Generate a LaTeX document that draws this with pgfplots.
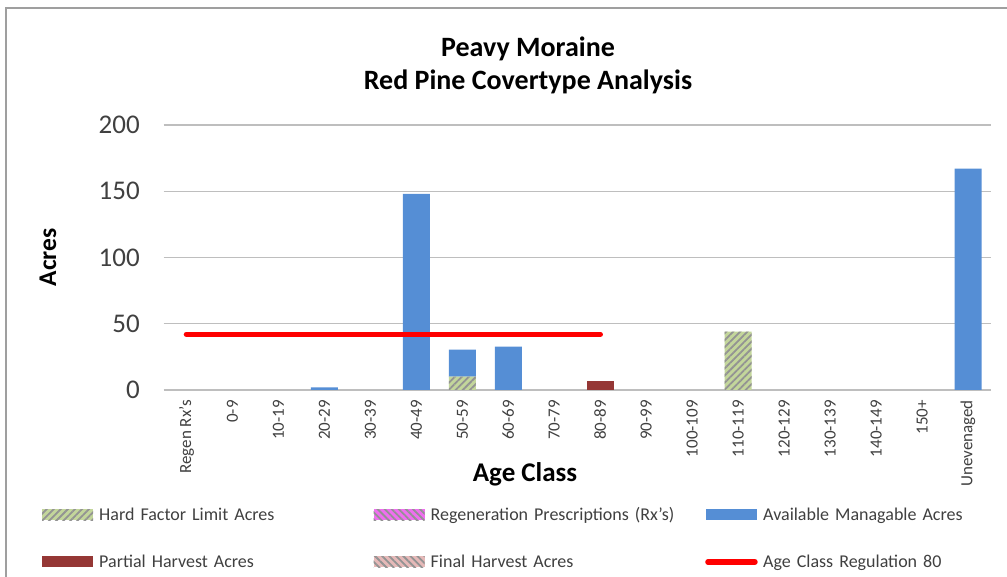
\documentclass[border=0pt]{standalone}
\usepackage{fontspec}
\setmainfont{Carlito}
\usepackage{pgfplots}
\pgfplotsset{compat=1.18}
\usetikzlibrary{patterns.meta}
\definecolor{barblue}{RGB}{85,142,213}
\definecolor{hardgreen}{RGB}{195,214,155}
\definecolor{partred}{RGB}{149,55,53}
\definecolor{finalpink}{RGB}{230,185,184}
\definecolor{regenmag}{RGB}{240,110,240}
\definecolor{gridgray}{RGB}{190,190,190}
\definecolor{txtgray}{RGB}{64,64,64}
\begin{document}
\begin{tikzpicture}[x=1pt,y=1pt]
\useasboundingbox (0,0) rectangle (1007,577);
\draw[color=gray!75, line width=2pt] (6,-20) -- (6,569) -- (1030,569);
\node[font=\fontsize{28}{33}\selectfont\bfseries, align=center, text=black] at (528,512) {Peavy Moraine\\Red Pine Covertype Analysis};
\begin{axis}[
  at={(163.5pt,187pt)}, anchor=south west,
  scale only axis, width=827.5pt, height=265pt,
  ybar stacked, bar width=27pt,
  xmin=-0.5, xmax=17.5, ymin=0, ymax=200,
  xtick=data,
  xticklabels={Regen Rx's,0-9,10-19,20-29,30-39,40-49,50-59,60-69,70-79,80-89,90-99,100-109,110-119,120-129,130-139,140-149,150+,Unevenaged},
  ytick={0,50,100,150,200},
  ymajorgrids, grid style={gridgray, line width=1.3pt},
  axis line style={draw=none},
  major tick length=0pt,
  /pgf/number format/assume math mode=true,
  xticklabel style={rotate=90, anchor=east, inner sep=0pt, font=\fontsize{17}{20}\selectfont, text=txtgray},
  xticklabel shift=10pt,
  yticklabel style={inner sep=0pt, font=\fontsize{27}{30}\selectfont, text=txtgray},
  yticklabel shift=23.5pt,
  xlabel={Age Class}, ylabel={Acres},
  xlabel style={at={(axis description cs:0.4369,-0.32)}, anchor=center, font=\fontsize{27}{30}\selectfont\bfseries},
  ylabel style={at={(axis description cs:-0.1396,0.5)}, anchor=center, rotate=0, font=\fontsize{25.5}{30}\selectfont\bfseries},
  legend columns=3,
  legend style={at={(axis description cs:-0.1468,-0.442)}, anchor=north west, draw=none, inner sep=0pt,
    font=\fontsize{18}{21}\selectfont, text=txtgray, row sep=33pt,
    nodes={text width=274.5pt, inner sep=0pt, align=left}},
  legend cell align=left,
  legend image code/.code={\fill[#1] (0pt,-5.5pt) rectangle (51pt,5.5pt); \path (57pt,0pt);},
]
\addplot[draw=none, fill=hardgreen, postaction={pattern={Lines[angle=45,distance=5pt,line width=1.8pt]}, pattern color=gray!85}] coordinates {
(0,0) (1,0) (2,0) (3,0) (4,0) (5,0) (6,10) (7,0) (8,0) (9,0) (10,0) (11,0) (12,44) (13,0) (14,0) (15,0) (16,0) (17,0)};
\addlegendentry{Hard Factor Limit Acres}
\addplot[draw=none, fill=regenmag, postaction={pattern={Lines[angle=-45,distance=5pt,line width=1.8pt]}, pattern color=gray!85}] coordinates {
(0,0) (1,0) (2,0) (3,0) (4,0) (5,0) (6,0) (7,0) (8,0) (9,0) (10,0) (11,0) (12,0) (13,0) (14,0) (15,0) (16,0) (17,0)};
\addlegendentry{Regeneration Prescriptions (Rx's)}
\addplot[draw=none, fill=barblue] coordinates {
(0,0) (1,0) (2,0) (3,2) (4,0) (5,148) (6,20.4) (7,32.7) (8,0) (9,0) (10,0) (11,0) (12,0) (13,0) (14,0) (15,0) (16,0) (17,167)};
\addlegendentry{Available Managable Acres}
\addplot[draw=none, fill=partred] coordinates {
(0,0) (1,0) (2,0) (3,0) (4,0) (5,0) (6,0) (7,0) (8,0) (9,7) (10,0) (11,0) (12,0) (13,0) (14,0) (15,0) (16,0) (17,0)};
\addlegendentry{Partial Harvest Acres}
\addplot[draw=none, fill=finalpink, postaction={pattern={Lines[angle=-45,distance=5pt,line width=1.8pt]}, pattern color=gray!85}] coordinates {
(0,0) (1,0) (2,0) (3,0) (4,0) (5,0) (6,0) (7,0) (8,0) (9,0) (10,0) (11,0) (12,0) (13,0) (14,0) (15,0) (16,0) (17,0)};
\addlegendentry{Final Harvest Acres}
\addlegendimage{legend image code/.code={\draw[red, line width=5.5pt, line cap=round] (2pt,0pt) -- (49pt,0pt); \path (57pt,0pt);}}
\addlegendentry{Age Class Regulation 80}
\end{axis}
\begin{axis}[
  at={(163.5pt,187pt)}, anchor=south west,
  scale only axis, width=827.5pt, height=265pt,
  xmin=-0.5, xmax=17.5, ymin=0, ymax=200,
  hide axis,
]
\addplot[red, line width=5.5pt, line cap=round] coordinates {(0,42) (9,42)};
\end{axis}
\end{tikzpicture}
\end{document}
